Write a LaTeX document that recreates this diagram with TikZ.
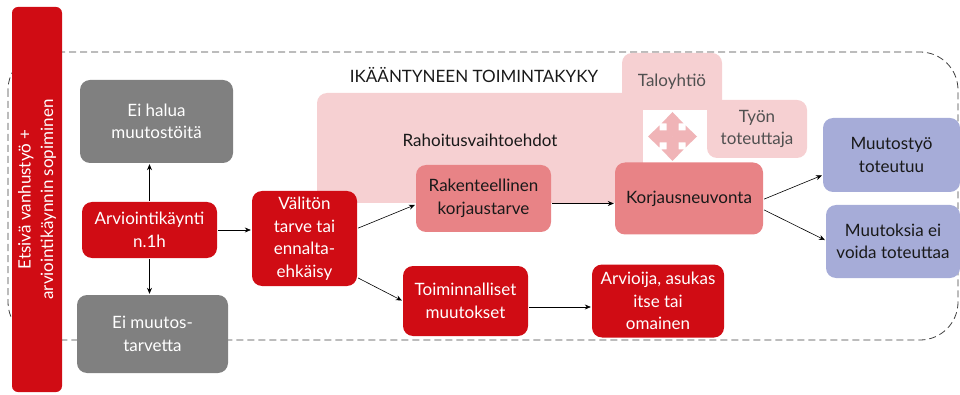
\documentclass[tikz,border=0pt]{standalone}
\usepackage{fontspec}
\setmainfont{Lato}
\usetikzlibrary{positioning}
\usetikzlibrary{arrows.meta}

\definecolor{ikred}{RGB}{208,12,20}
\definecolor{ikgrey}{RGB}{128,128,128}
\definecolor{ikpink}{RGB}{246,208,210}
\definecolor{iksalmon}{RGB}{232,131,134}
\definecolor{ikcross}{RGB}{240,180,183}
\definecolor{iklilac}{RGB}{166,172,216}
\definecolor{ikdark}{RGB}{25,25,25}
\definecolor{iksoft}{RGB}{80,80,80}

\tikzset{
  box/.style={rounded corners=10pt, align=center, inner sep=2pt},
  redbox/.style={box, fill=ikred, text=white},
  greybox/.style={box, fill=ikgrey, text=white},
  salmonbox/.style={box, fill=iksalmon, text=ikdark},
  lilacbox/.style={box, fill=iklilac, text=ikdark},
  pinkbox/.style={box, fill=ikpink, text=iksoft},
  arr/.style={-{Stealth[length=6pt,width=5pt]}, semithick, shorten >=1pt, shorten <=1pt}
}

\begin{document}
\begin{tikzpicture}[x=1pt,y=-1pt,on grid,font=\fontsize{17}{22.5}\selectfont]
  \useasboundingbox (0,0) rectangle (960,395);
  % outer frame
  \draw[dashed, dash pattern=on 7pt off 4pt, line width=0.8pt, black!75, rounded corners=38pt] (8,52) rectangle (958,340);
  \node[redbox, rotate=90, rounded corners=6pt, minimum width=385pt, minimum height=50pt] (etsiva) at (37,199.5)
    {Etsivä vanhustyö +\\arviointikäynnin sopiminen};

  % pink background
  \node[pinkbox, minimum width=326pt, minimum height=110pt] (rahoitus) at (480,148) {};
  \node[pinkbox, minimum width=100pt, minimum height=57pt] (taloyhtio) at (672,81.5) {Taloyhtiö};
  \node[pinkbox, minimum width=100pt, minimum height=58pt] (tyon) at (757,129) {Työn\\toteuttaja};
  \node[text=ikdark] (rahtxt) at (480,140) {Rahoitusvaihtoehdot};
  \node[text=ikdark] (ikaant) at (474,75) {IKÄÄNTYNEEN TOIMINTAKYKY};
  \fill[white] (643,110) rectangle (707,165);
  \foreach \r in {0,90,180,270}
    \fill[ikcross, shift={(672.5,136.5)}, rotate=\r] (-6,0) -- (-6,13) -- (-11,13) -- (0,24.5) -- (11,13) -- (6,13) -- (6,0) -- cycle;

  % boxes
  \node[greybox, minimum width=153pt, minimum height=83pt] (halua) at (156.5,121.5) {Ei halua\\muutostöitä};
  \node[redbox, minimum width=135pt, minimum height=56pt] (arvio) at (149.5,230) {Arviointikäynti\\n.1h};
  \node[greybox, minimum width=151pt, minimum height=78pt] (eimuutos) at (152.5,334) {Ei muutos-\\tarvetta};
  \node[redbox, minimum width=105pt, minimum height=95pt] (valiton) at (304.5,238.5) {Välitön\\tarve tai\\ennalta-\\ehkäisy};
  \node[salmonbox, minimum width=135pt, minimum height=67pt] (rak) at (483.5,198.5) {Rakenteellinen\\korjaustarve};
  \node[salmonbox, minimum width=148pt, minimum height=72pt] (korj) [right=205.5pt of rak] {Korjausneuvonta};
  \node[redbox, minimum width=125pt, minimum height=70pt] (toim) at (465.5,301) {Toiminnalliset\\muutokset};
  \node[redbox, minimum width=132pt, minimum height=73pt] (arvioija) [right=192.5pt of toim] {Arvioija, asukas\\itse tai\\omainen};
  \node[lilacbox, minimum width=137pt, minimum height=74pt] (toteutuu) at (891.5,155) {Muutostyö\\toteutuu};
  \node[lilacbox, minimum width=134pt, minimum height=73pt] (eivoida) [below=86.5pt of toteutuu, xshift=1.5pt] {Muutoksia ei\\voida toteuttaa};

  % arrows
  \draw[arr] (arvio.north) -- (arvio.north |- halua.south);
  \draw[arr] (arvio.south) -- (arvio.south |- eimuutos.north);
  \draw[arr] (arvio.east) -- (arvio.east -| valiton.west);
  \draw[arr] ([yshift=10pt]valiton.east) -- ([yshift=-6pt]rak.west);
  \draw[arr] ([yshift=-39pt]valiton.east) -- (toim.west);
  \draw[arr] ([yshift=-5pt]rak.east) -- ([yshift=-5pt]rak.east -| korj.west);
  \draw[arr] ([yshift=-6pt]toim.east) -- ([yshift=-6pt]toim.east -| arvioija.west);
  \draw[arr] ([yshift=-1pt]korj.east) -- ([yshift=-20pt]toteutuu.west);
  \draw[arr] ([yshift=-11pt]korj.east) -- ([yshift=1pt]eivoida.west);
\end{tikzpicture}
\end{document}
